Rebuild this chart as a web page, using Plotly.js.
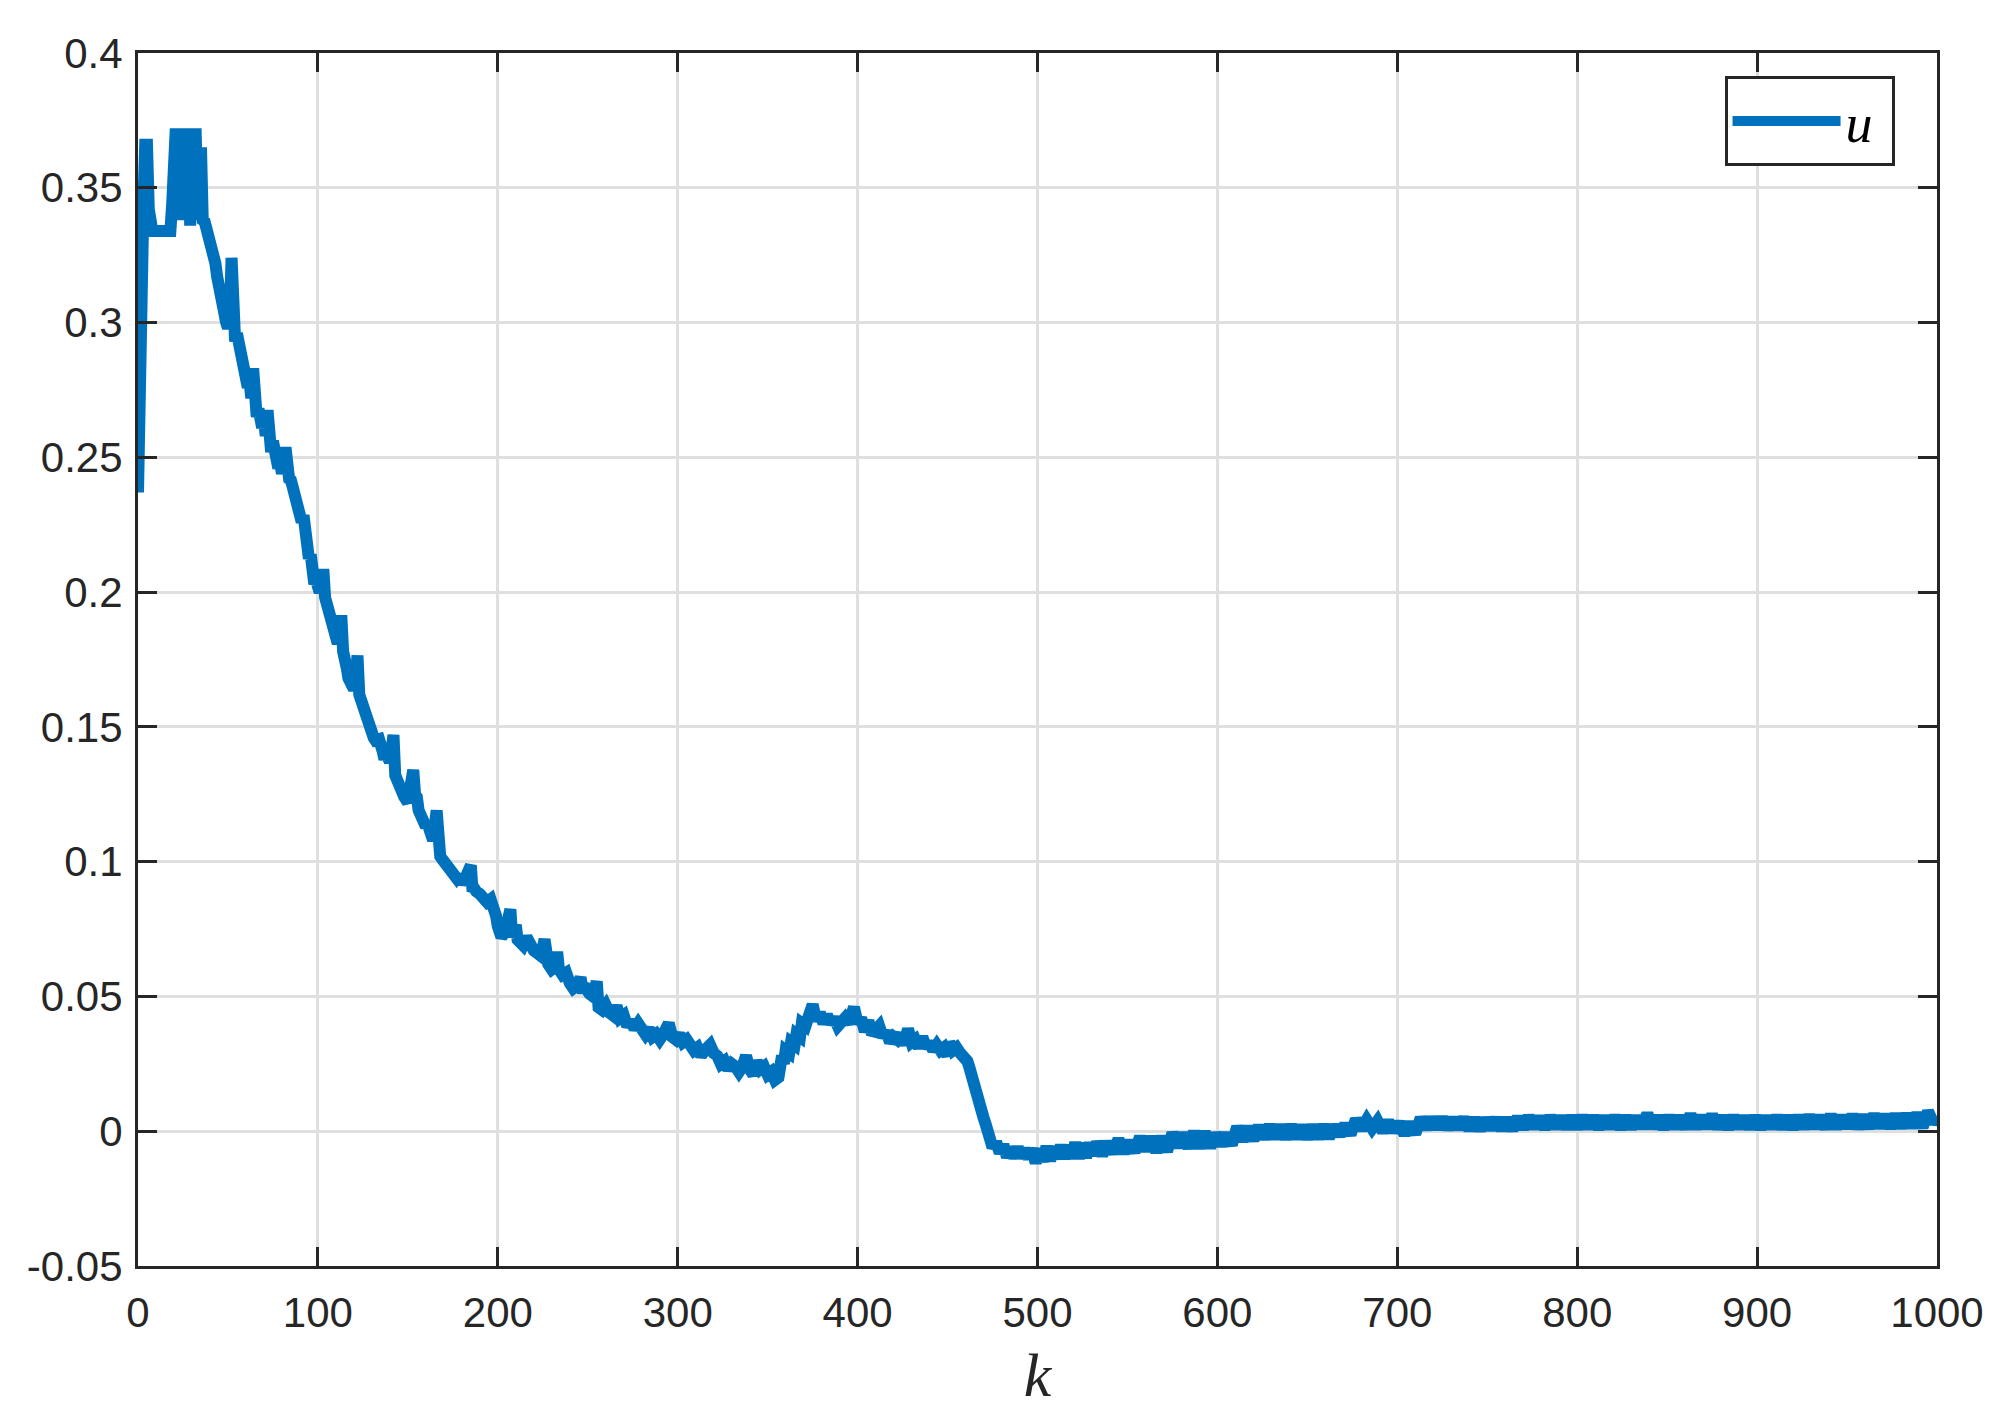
<!DOCTYPE html>
<html>
<head>
<meta charset="utf-8">
<script src="https://cdn.plot.ly/plotly-3.0.1.min.js"></script>
<style>html,body{margin:0;padding:0;background:#fff;}#chart{width:2011px;height:1425px;}</style>
</head>
<body>
<div id="chart"></div>
<script>
// sample index k
const k = [
0,1,2,3,4,5,6,7,8,12,16,18,19,20,21,22,23,24,25,26,27,28,29,30,31,32,33,34,35,36,37,38,39,
40,41,42,43,44,45,46,47,48,49,50,51,52,53,54,55,56,57,58,59,60,61,62,63,64,65,66,67,68,69,70,71,72,73,74,75,76,77,78,79,80,81,82,84,85,86,87,88,89,90,91,92,93,94,95,96,97,98,99,100,
101,102,103,104,105,106,107,108,109,110,111,112,113,114,115,116,117,118,119,120,121,122,123,124,125,126,127,128,129,130,131,132,134,136,137,138,140,142,143,144,145,146,148,150,151,153,154,155,156,157,158,160,161,162,163,164,166,167,168,169,170,172,174,176,177,178,180,182,185,186,187,188,190,192,194,196,198,199,200,201,202,204,207,208,210,211,212,214,216,218,220,222,224,226,227,228,230,
232,233,234,236,238,240,242,244,246,247,249,251,253,255,256,258,260,262,264,266,268,270,272,274,276,278,280,282,284,286,288,290,292,295,297,299,301,303,305,307,309,311,313,315,318,320,322,324,326,328,330,332,334,336,338,340,342,344,346,348,350,352,354,356,357,358,
359,360,362,363,365,366,368,369,371,373,375,377,379,381,383,385,387,389,391,393,395,398,400,402,404,406,408,410,412,414,416,418,420,422,424,426,428,430,432,434,436,438,440,442,444,446,448,450,451,453,455,457,459,461,462,463,465,466,468,469,470,471,472,473,474,475,477,479,481,
483,485,487,489,491,493,495,497,499,501,503,505,507,509,511,513,515,517,519,521,523,525,527,529,531,533,536,539,542,545,548,551,554,557,560,563,566,569,572,575,578,581,584,587,590,593,596,599,
602,605,608,611,614,617,620,623,626,629,632,635,638,641,644,647,650,653,656,659,662,665,668,671,674,677,680,683,686,689,692,695,698,701,704,707,710,713,716,719,722,725,728,731,734,737,740,743,746,749,752,755,758,761,764,767,770,773,776,779,782,785,788,791,794,797,
800,803,806,809,812,815,818,821,824,827,830,833,836,839,842,845,848,851,854,857,860,863,866,869,872,875,878,881,884,887,890,893,896,899,902,905,908,911,914,917,920,923,926,929,932,935,938,941,944,947,950,953,956,959,962,965,968,971,974,977,980,983,986,989,992,995,998,1000
];
// control signal u(k)
const u = [
0.237,0.311,0.329,0.344,0.366,0.366,0.342,0.337,0.334,0.334,0.334,0.334,0.344,0.352,0.372,0.345,0.372,0.338,0.372,0.340,0.372,0.372,0.336,0.372,0.338,0.372,0.345,0.365,0.365,0.338,0.3375,0.335,0.333,
0.329,0.327,0.325,0.322,0.317,0.312,0.308,0.303,0.305,0.300,0.298,0.300,0.324,0.296,0.293,0.296,0.292,0.293,0.287,0.282,0.280,0.276,0.278,0.272,0.283,0.270,0.265,0.268,0.262,0.261,0.264,0.258,0.2675,0.255,0.252,0.256,0.249,0.250,0.246,0.248,0.244,0.247,0.2537,0.242,0.2415,0.239,0.236,0.237,0.232,0.230,0.226,0.2285,0.222,0.217,0.2125,0.214,0.208,0.203,0.205,0.202,
0.200,0.203,0.2085,0.198,0.195,0.193,0.190,0.191,0.186,0.183,0.181,0.184,0.1914,0.178,0.176,0.172,0.168,0.166,0.167,0.164,0.166,0.1765,0.162,0.1595,0.157,0.156,0.153,0.150,0.151,0.148,0.146,0.145,0.1454,0.141,0.138,0.140,0.137,0.147,0.132,0.130,0.128,0.125,0.124,0.122,0.126,0.134,0.125,0.124,0.119,0.117,0.115,0.113,0.114,0.110,0.108,0.108,0.119,0.104,0.102,0.101,0.100,0.099,0.097,0.096,0.094,0.095,0.092,0.094,0.0986,0.089,0.090,0.089,0.088,0.087,0.085,0.086,0.083,0.080,0.076,0.073,0.072,0.074,0.0823,0.072,0.0765,0.071,0.070,0.069,0.072,0.068,0.067,0.066,0.065,0.0712,0.064,0.062,0.060,
0.061,0.0665,0.060,0.058,0.0588,0.055,0.053,0.054,0.057,0.053,0.053,0.051,0.050,0.0556,0.046,0.045,0.0468,0.044,0.043,0.0465,0.042,0.043,0.039,0.041,0.038,0.040,0.037,0.036,0.038,0.035,0.036,0.034,0.036,0.040,0.035,0.034,0.036,0.033,0.034,0.031,0.030,0.031,0.028,0.030,0.032,0.029,0.028,0.025,0.026,0.023,0.025,0.024,0.022,0.024,0.028,0.023,0.021,0.026,0.023,0.024,0.021,0.022,0.019,0.020,0.023,0.028,
0.025,0.030,0.029,0.033,0.032,0.036,0.035,0.040,0.039,0.043,0.047,0.041,0.044,0.040,0.043,0.040,0.042,0.039,0.041,0.042,0.040,0.046,0.040,0.042,0.037,0.041,0.036,0.038,0.039,0.035,0.037,0.033,0.035,0.034,0.036,0.032,0.038,0.033,0.034,0.031,0.035,0.031,0.033,0.030,0.032,0.030,0.031,0.028,0.033,0.030,0.031,0.029,0.028,0.026,0.024,0.021,0.017,0.013,0.009,0.007,0.005,0.003,0.000,-0.002,-0.003,-0.006,-0.004,-0.008,-0.005,
-0.0096,-0.006,-0.0098,-0.0059,-0.0098,-0.0065,-0.0101,-0.0065,-0.0118,-0.0066,-0.0112,-0.0056,-0.011,-0.0058,-0.0101,-0.0052,-0.0101,-0.0053,-0.0100,-0.0042,-0.0101,-0.0045,-0.0098,-0.0043,-0.0089,-0.0040,-0.0089,-0.0041,-0.0081,-0.0030,-0.0080,-0.0037,-0.0077,-0.0021,-0.0071,-0.0022,-0.0077,-0.0021,-0.0075,-0.0006,-0.0059,-0.0008,-0.0062,-0.0002,-0.0062,-0.0003,-0.0060,-0.0009,
-0.0052,-0.0010,-0.0050,0.0017,-0.0036,0.0016,-0.0033,0.0020,-0.0027,0.0022,-0.0026,0.0021,-0.0027,0.0022,-0.0025,0.0020,-0.0027,0.0021,-0.0026,0.0022,-0.0024,0.0020,-0.0015,0.0025,-0.0012,0.0044,0.0007,0.0042,0.0010,0.0038,-0.0002,0.0037,-0.0001,0.0032,-0.0012,0.0031,-0.0010,0.0049,0.0010,0.0048,0.0012,0.0049,0.0010,0.0047,0.0011,0.0049,0.0006,0.0047,0.0005,0.0046,0.0008,0.0047,0.0006,0.0047,0.0005,0.0052,0.0010,0.0055,0.0012,0.0053,0.0010,0.0055,0.0012,0.0054,0.0011,0.0055,
0.0011,0.0056,0.0012,0.0055,0.0010,0.0054,0.0012,0.0056,0.0010,0.0055,0.0011,0.0054,0.0013,0.0065,0.0012,0.0055,0.0010,0.0056,0.0012,0.0055,0.0011,0.0062,0.0012,0.0056,0.0013,0.0061,0.0011,0.0055,0.0010,0.0056,0.0012,0.0054,0.0011,0.0055,0.0010,0.0054,0.0012,0.0056,0.0011,0.0055,0.0010,0.0056,0.0012,0.0058,0.0013,0.0056,0.0011,0.0060,0.0012,0.0056,0.0014,0.0060,0.0012,0.0058,0.0013,0.0062,0.0014,0.0060,0.0013,0.0062,0.0014,0.0063,0.0015,0.0066,0.0014,0.0074,0.0030,0.0052
];
const xTickVals = [0,100,200,300,400,500,600,700,800,900,1000];
const xTickText = ["0","100","200","300","400","500","600","700","800","900","1000"];
const yTickVals = [-0.05,0,0.05,0.1,0.15,0.2,0.25,0.3,0.35,0.4];
const yTickText = ["-0.05","0","0.05","0.1","0.15","0.2","0.25","0.3","0.35","0.4"];

const axisCol = '#262626';
const trace = {
  x: k, y: u, type: 'scatter', mode: 'lines', name: '<i>u</i>&nbsp;',
  line: {color: '#0072BD', width: 12}
};
const common = {
  showline: true, linecolor: axisCol, linewidth: 3, mirror: 'ticks',
  ticks: 'inside', ticklen: 19, tickwidth: 3, tickcolor: axisCol,
  showgrid: true, gridcolor: '#dfdfdf', gridwidth: 3, zeroline: false,
  tickfont: {family: 'Liberation Sans, Arial, sans-serif', size: 42, color: axisCol}
};
const layout = {
  width: 2011, height: 1425,
  margin: {l: 138, r: 74, t: 53, b: 159},
  paper_bgcolor: '#ffffff', plot_bgcolor: '#ffffff',
  showlegend: true,
  xaxis: Object.assign({}, common, {
    range: [0, 1000], tickmode: 'array', tickvals: xTickVals, ticktext: xTickText,
    ticklabelstandoff: 8,
    title: {text: '<i>k</i>', font: {family: 'Liberation Serif, serif', size: 62, color: axisCol}, standoff: 18}
  }),
  yaxis: Object.assign({}, common, {
    range: [-0.05, 0.4], tickmode: 'array', tickvals: yTickVals, ticktext: yTickText,
    ticklabelstandoff: 4
  }),
  legend: {
    x: 0.9764, xanchor: 'right', y: 0.9808, yanchor: 'top',
    bgcolor: '#ffffff', bordercolor: axisCol, borderwidth: 3,
    font: {family: 'Liberation Serif, serif', size: 54, color: '#000000'},
    itemwidth: 108
  }
};
Plotly.newPlot('chart', [trace], layout, {staticPlot: true, displayModeBar: false});
</script>
</body>
</html>
